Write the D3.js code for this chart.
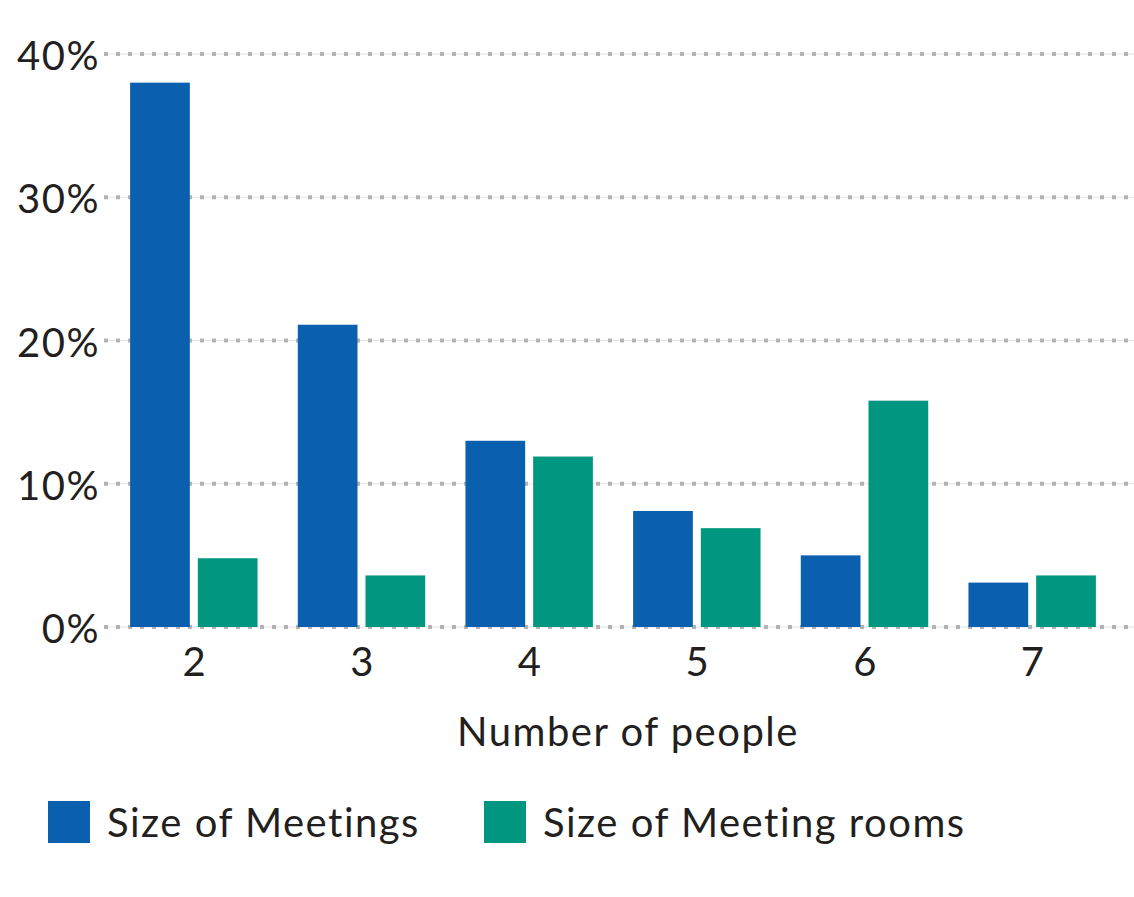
<!DOCTYPE html>
<html>
<head>
<meta charset="utf-8">
<script src="https://cdn.jsdelivr.net/npm/d3@7"></script>
<style>
body{margin:0;background:#fff;}
text{font-family:Lato,"Open Sans",sans-serif;fill:#231f20;font-size:40px;letter-spacing:1.5px;}
</style>
</head>
<body>
<script>
// data
const people=["2","3","4","5","6","7"]
const meetings=[38,21.1,13,8.1,5,3.1]
const rooms=[4.8,3.6,11.9,6.9,15.8,3.6]
const yTicks=[0,10,20,30,40]
const seriesNames=["Size of Meetings","Size of Meeting rooms"]
const colors=["#0a60ae","#00967f"]

const w=1134, h=897

const svg=d3.select("body").append("svg")
    .attr("width",w).attr("height",h)

// scales
const x=d3.scaleBand().domain(people).range([110,1116])
    .paddingInner(0.24).paddingOuter(0.12)
const xs=d3.scaleBand().domain([0,1]).range([0,x.bandwidth()]).paddingInner(0.118)
const y=d3.scaleLinear().domain([0,40]).range([627,54])

// grid lines
const grid=svg.append("g")
grid.selectAll("line.base").data(yTicks).enter().append("line")
    .attr("x1",104).attr("x2",w).attr("y1",d=>y(d)).attr("y2",d=>y(d))
    .attr("stroke","#e2e2e2").attr("stroke-width",1)
grid.selectAll("line.dot").data(yTicks).enter().append("line")
    .attr("x1",104).attr("x2",w).attr("y1",d=>y(d)).attr("y2",d=>y(d))
    .attr("stroke","#b3b3b3").attr("stroke-width",4)
    .attr("stroke-dasharray","4 8")

// y labels
svg.append("g").selectAll("text").data(yTicks).enter().append("text")
    .attr("x",100).attr("y",d=>y(d)+16)
    .attr("text-anchor","end")
    .text(d=>d+"%")

// bars
const groups=svg.append("g").selectAll("g").data(people).enter().append("g")
    .attr("transform",d=>"translate("+x(d)+",0)")
groups.selectAll("rect").data((d,i)=>[meetings[i],rooms[i]]).enter().append("rect")
    .attr("x",(d,j)=>xs(j))
    .attr("width",xs.bandwidth())
    .attr("y",d=>y(d))
    .attr("height",d=>y(0)-y(d))
    .attr("fill",(d,j)=>colors[j])

// x labels
svg.append("g").selectAll("text").data(people).enter().append("text")
    .attr("x",d=>x(d)+x.bandwidth()/2+1)
    .attr("y",676)
    .attr("text-anchor","middle")
    .text(d=>d)

svg.append("text")
    .attr("x",628).attr("y",746)
    .attr("text-anchor","middle")
    .text("Number of people")

// legend
const legX=[48,484]
const leg=svg.append("g").selectAll("g").data(seriesNames).enter().append("g")
    .attr("transform",(d,i)=>"translate("+legX[i]+",801)")
leg.append("rect").attr("width",42).attr("height",42).attr("fill",(d,i)=>colors[i])
leg.append("text").attr("x",59).attr("y",36).text(d=>d)
</script>
</body>
</html>
